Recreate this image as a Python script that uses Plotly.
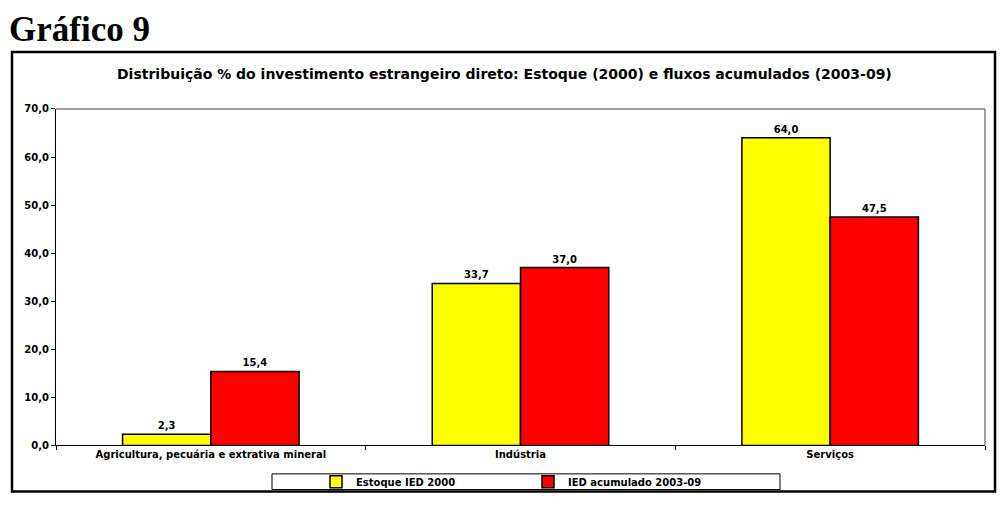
import plotly.graph_objects as go

categories = ["Agricultura, pecuária e extrativa mineral", "Indústria", "Serviços"]
estoque_2000 = [2.3, 33.7, 64.0]
ied_acumulado = [15.4, 37.0, 47.5]
series_names = ["Estoque IED 2000", "IED acumulado 2003-09"]
y_ticks = [0, 10, 20, 30, 40, 50, 60, 70]

W, H = 1008, 523
px = lambda v: v / W
py = lambda v: 1 - v / H

font = "DejaVu Sans, Arial"

fig = go.Figure()
for name, vals, col in [(series_names[0], estoque_2000, "#FFFF00"),
                        (series_names[1], ied_acumulado, "#FF0000")]:
    fig.add_trace(go.Bar(
        x=categories, y=vals, name=name,
        marker=dict(color=col, line=dict(color="black", width=1.5)),
        text=[f"<b>{v:.1f}</b>".replace(".", ",") for v in vals],
        textposition="outside", cliponaxis=False,
        textfont=dict(family=font, size=10, color="black"),
    ))

fig.update_layout(
    width=W, height=H,
    margin=dict(l=0, r=0, t=0, b=0),
    paper_bgcolor="white", plot_bgcolor="white",
    barmode="group", bargap=0.43, bargroupgap=0,
    separators=",.",
    showlegend=True,
    legend=dict(orientation="h", x=px(316), y=py(486), xanchor="left", yanchor="middle",
                font=dict(family=font, size=10, color="black", weight="bold"),
                entrywidth=167, entrywidthmode="pixels",
                bgcolor="rgba(0,0,0,0)", itemclick=False),
    xaxis=dict(domain=[px(56), px(985)], showline=True, linecolor="black", linewidth=1,
               ticks="outside", tickson="boundaries", ticklen=4, tickcolor="black",
               tickfont=dict(family=font, size=10, color="black", weight="bold"),
               showgrid=False, fixedrange=True),
    yaxis=dict(domain=[py(449), py(106)], range=[0, 70], tickvals=y_ticks,
               tickformat=".1f", showline=True, linecolor="black", linewidth=1,
               ticks="outside", ticklen=4, tickcolor="black",
               tickfont=dict(family=font, size=10, color="black", weight="bold"),
               showgrid=False, zeroline=False, fixedrange=True),
    shapes=[
        # outer chart box
        dict(type="rect", xref="paper", yref="paper", x0=px(12), x1=px(995), y0=py(496), y1=py(48),
             line=dict(color="black", width=2.5)),
        # plot area top/right gray border
        dict(type="line", xref="paper", yref="paper", x0=px(56), x1=px(985), y0=py(106), y1=py(106),
             line=dict(color="#808080", width=1.5)),
        dict(type="line", xref="paper", yref="paper", x0=px(985), x1=px(985), y0=py(106), y1=py(449),
             line=dict(color="#808080", width=1.5)),
        # legend box
        dict(type="rect", xref="paper", yref="paper", x0=px(272), x1=px(780), y0=py(494), y1=py(478),
             line=dict(color="black", width=1)),
    ],
    annotations=[
        dict(text="<b>Gráfico 9</b>", xref="paper", yref="paper", x=px(7), y=py(25),
             xanchor="left", yanchor="middle", showarrow=False,
             font=dict(family="Liberation Serif, Times New Roman", size=35, color="black")),
        dict(text="<b>Distribuição % do investimento estrangeiro direto: Estoque (2000) e fluxos acumulados (2003-09)</b>",
             xref="paper", yref="paper", x=px(504), y=py(70), xanchor="center", yanchor="middle",
             showarrow=False, font=dict(family=font, size=14, color="black")),
    ],
)
fig.write_html("out.html")
